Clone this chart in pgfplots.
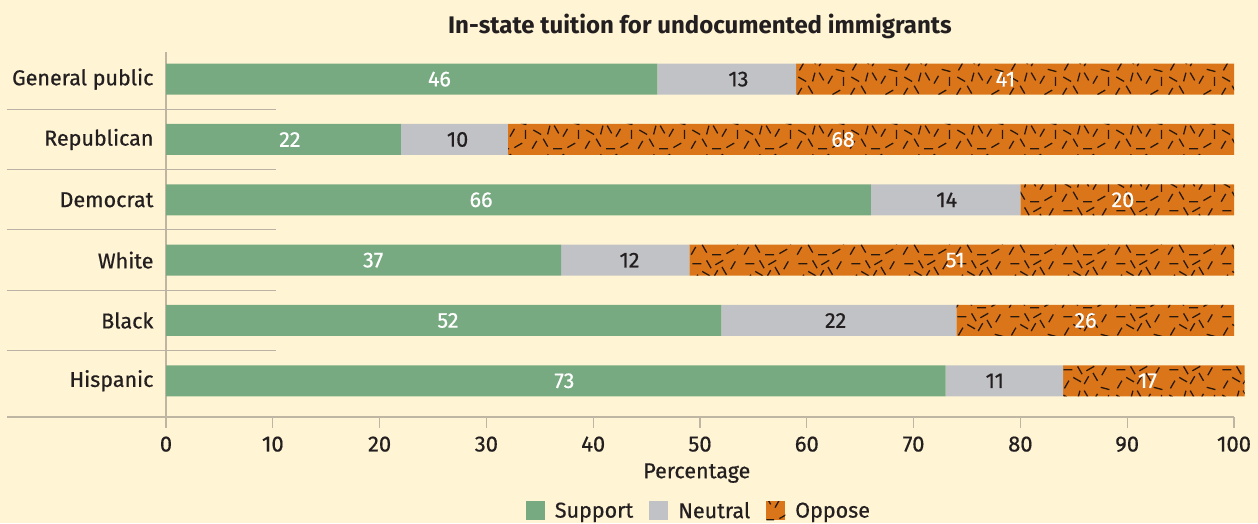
\documentclass[border=0pt]{standalone}
\usepackage{pgfplots}
\pgfplotsset{compat=1.18}
\usepackage{fontspec}
\setmainfont{Fira Sans}[UprightFeatures={FakeBold=0.6}]
\usetikzlibrary{patterns}
\definecolor{bgc}{RGB}{255,245,212}
\definecolor{gr}{RGB}{120,170,130}
\definecolor{gy}{RGB}{193,194,198}
\definecolor{orc}{RGB}{218,117,26}
\definecolor{txt}{RGB}{35,31,32}
\definecolor{axc}{RGB}{190,181,162}
\definecolor{sepc}{RGB}{185,178,165}
\definecolor{dashc}{RGB}{40,25,15}
\pgfdeclarepatternformonly{randdash}{\pgfpoint{-1pt}{-1pt}}{\pgfpoint{54pt}{54pt}}{\pgfpoint{53pt}{53pt}}{
  \pgfsetlinewidth{1.3pt}
  \pgfpathmoveto{\pgfpoint{2.2pt}{3.3pt}}\pgfpathlineto{\pgfpoint{6.7pt}{11.1pt}}
  \pgfpathmoveto{\pgfpoint{13.2pt}{13.2pt}}\pgfpathlineto{\pgfpoint{17.7pt}{5.4pt}}
  \pgfpathmoveto{\pgfpoint{23.1pt}{3.3pt}}\pgfpathlineto{\pgfpoint{32.1pt}{3.3pt}}
  \pgfpathmoveto{\pgfpoint{37.4pt}{4.4pt}}\pgfpathlineto{\pgfpoint{45.2pt}{8.9pt}}
  \pgfpathmoveto{\pgfpoint{48.4pt}{13.2pt}}\pgfpathlineto{\pgfpoint{48.4pt}{22.2pt}}
  \pgfpathmoveto{\pgfpoint{3.3pt}{22pt}}\pgfpathlineto{\pgfpoint{11.1pt}{17.5pt}}
  \pgfpathmoveto{\pgfpoint{17.6pt}{17.6pt}}\pgfpathlineto{\pgfpoint{19.9pt}{26.3pt}}
  \pgfpathmoveto{\pgfpoint{24.2pt}{26.4pt}}\pgfpathlineto{\pgfpoint{28.7pt}{18.6pt}}
  \pgfpathmoveto{\pgfpoint{33pt}{15.4pt}}\pgfpathlineto{\pgfpoint{37.5pt}{23.2pt}}
  \pgfpathmoveto{\pgfpoint{40.7pt}{29.7pt}}\pgfpathlineto{\pgfpoint{49.4pt}{27.4pt}}
  \pgfpathmoveto{\pgfpoint{4.4pt}{28.6pt}}\pgfpathlineto{\pgfpoint{8.9pt}{36.4pt}}
  \pgfpathmoveto{\pgfpoint{13.2pt}{39.6pt}}\pgfpathlineto{\pgfpoint{21pt}{35.1pt}}
  \pgfpathmoveto{\pgfpoint{24.2pt}{33pt}}\pgfpathlineto{\pgfpoint{28.7pt}{40.8pt}}
  \pgfpathmoveto{\pgfpoint{33pt}{44pt}}\pgfpathlineto{\pgfpoint{37.5pt}{36.2pt}}
  \pgfpathmoveto{\pgfpoint{3.3pt}{47.3pt}}\pgfpathlineto{\pgfpoint{12.3pt}{47.3pt}}
  \pgfpathmoveto{\pgfpoint{17.6pt}{50.6pt}}\pgfpathlineto{\pgfpoint{22.1pt}{42.8pt}}
  \pgfpathmoveto{\pgfpoint{26.4pt}{46.2pt}}\pgfpathlineto{\pgfpoint{34.2pt}{50.7pt}}
  \pgfpathmoveto{\pgfpoint{41.8pt}{41.8pt}}\pgfpathlineto{\pgfpoint{46.3pt}{49.6pt}}
  \pgfusepath{stroke}
}
\newcommand\lbl{\fontsize{21.5}{25}\selectfont}
\begin{document}
\begin{tikzpicture}[x=1pt,y=1pt]
\useasboundingbox (0,0) rectangle (1258,523);
\fill[bgc] (0,0) rectangle (1258,523);
\begin{axis}[
  at={(166pt,106pt)}, anchor=south west, scale only axis,
  width=1068pt, height=365pt,
  xmin=0, xmax=100, ymin=-0.6, ymax=5.45,
  xbar stacked, bar width=0.514,
  clip=false,
  axis line style={draw=none},
  xtick={0,10,...,100}, xtick pos=left, xtick align=outside,
  major tick length=11pt,
  x tick style={axc, line width=1.3pt},
  ytick={0,1,2,3,4,5},
  yticklabels={Hispanic,Black,White,Democrat,Republican,General public},
  y tick style={draw=none},
  yticklabel style={font=\lbl, text=txt, xshift=-9pt},
  xticklabel style={font=\fontsize{22}{26}\selectfont, text=txt, yshift=-5pt},
  /pgf/number format/assume math mode=true,
  legend columns=3,
  legend style={draw=none, fill=none, font=\lbl, text=txt,
    at={(axis cs:49.9,-2.155)}, anchor=center,
    /tikz/every odd column/.append style={column sep=8pt},
    /tikz/every even column/.append style={column sep=14pt}},
  legend image code/.code={\fill[#1] (0pt,-9.5pt) rectangle (19pt,9.5pt);},
]
\addplot[fill=gr, draw=none] coordinates {(73,0) (52,1) (37,2) (66,3) (22,4) (46,5)};
\addplot[fill=gy, draw=none] coordinates {(11,0) (22,1) (12,2) (14,3) (10,4) (13,5)};
\addplot[fill=orc, draw=none, postaction={pattern=randdash, pattern color=dashc}] coordinates {(17,0) (26,1) (51,2) (20,3) (68,4) (41,5)};
\legend{Support, Neutral, Oppose}
\draw[sepc, line width=1pt] (axis cs:-14.9,0.5) -- (axis cs:10.3,0.5);
\draw[sepc, line width=1pt] (axis cs:-14.9,1.5) -- (axis cs:10.3,1.5);
\draw[sepc, line width=1pt] (axis cs:-14.9,2.5) -- (axis cs:10.3,2.5);
\draw[sepc, line width=1pt] (axis cs:-14.9,3.5) -- (axis cs:10.3,3.5);
\draw[sepc, line width=1pt] (axis cs:-14.9,4.5) -- (axis cs:10.3,4.5);
\draw[axc, line width=2pt] (axis cs:-14.9,-0.6) -- (axis cs:100,-0.6);
\draw[axc, line width=1.5pt] (axis cs:0,5.45) -- (axis cs:0,-0.78);
\node[font=\bfseries\fontsize{24}{28}\selectfont, text=txt] at (axis cs:50,5.87) {In-state tuition for undocumented immigrants};
\node[font=\lbl, text=txt] at (axis cs:49.7,-1.53) {Percentage};
\end{axis}
\begin{axis}[
  at={(166pt,106pt)}, anchor=south west, scale only axis,
  width=1068pt, height=365pt,
  xmin=0, xmax=100, ymin=-0.6, ymax=5.45,
  hide axis, clip=false,
  nodes near coords, point meta=explicit symbolic,
]
\addplot[draw=none, every node near coord/.style={anchor=center, text=white, font=\lbl}]
  coordinates {(37.3,0)[73] (26.4,1)[52] (19.4,2)[37] (29.5,3)[66] (11.6,4)[22] (25.6,5)[46]};
\addplot[draw=none, every node near coord/.style={anchor=center, text=txt, font=\lbl}]
  coordinates {(77.6,0)[11] (62.7,1)[22] (43.4,2)[12] (73.1,3)[14] (27.3,4)[10] (53.6,5)[13]};
\addplot[draw=none, every node near coord/.style={anchor=center, text=white, font=\lbl}]
  coordinates {(91.9,0)[17] (86.1,1)[26] (73.9,2)[51] (89.6,3)[20] (63.4,4)[68] (78.6,5)[41]};
\end{axis}
\end{tikzpicture}
\end{document}
